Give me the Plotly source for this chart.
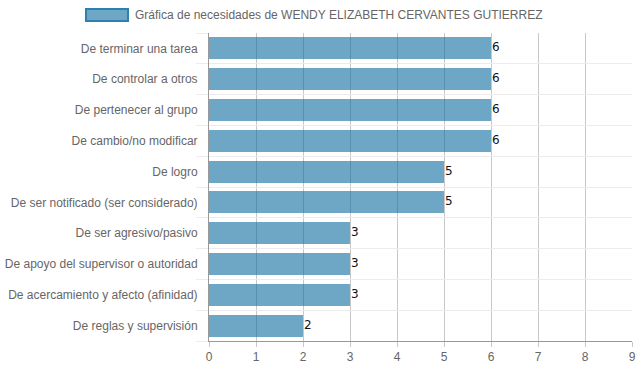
import plotly.graph_objects as go

categories = [
    "De terminar una tarea",
    "De controlar a otros",
    "De pertenecer al grupo",
    "De cambio/no modificar",
    "De logro",
    "De ser notificado (ser considerado)",
    "De ser agresivo/pasivo",
    "De apoyo del supervisor o autoridad",
    "De acercamiento y afecto (afinidad)",
    "De reglas y supervisión",
]
values = [6, 6, 6, 6, 5, 5, 3, 3, 3, 2]
x_ticks = [0, 1, 2, 3, 4, 5, 6, 7, 8, 9]
series_name = "Gráfica de necesidades de WENDY ELIZABETH CERVANTES GUTIERREZ"

FONT = "Liberation Sans, Arial, Helvetica, sans-serif"
positions = list(range(len(categories)))
bounds = [p - 0.5 for p in positions] + [positions[-1] + 0.5]

fig = go.Figure()
# invisible trace to activate horizontal grid axis
fig.add_trace(go.Scatter(x=[0], y=[0], yaxis="y2", mode="markers",
                         marker=dict(opacity=0), showlegend=False, hoverinfo="skip"))
fig.add_trace(go.Bar(
    y=positions, x=values, orientation="h", width=0.72,
    marker=dict(color="rgba(13,107,158,0.6)", line=dict(width=0)),
    showlegend=False, name=series_name,
))

label_annotations = [
    dict(x=v, y=p, xref="x", yref="y", text=str(v), showarrow=False,
         xanchor="left", yanchor="middle", xshift=-1, yshift=1,
         font=dict(size=12, color="#111", family="DejaVu Sans, sans-serif"))
    for p, v in zip(positions, values)
]

fig.update_layout(
    width=639, height=372,
    margin=dict(l=209, r=7, t=33, b=31, autoexpand=False),
    paper_bgcolor="white", plot_bgcolor="white",
    font=dict(family=FONT, size=12, color="#666"),
    bargap=0,
    xaxis=dict(range=[0, 9], tickvals=x_ticks, showgrid=True, gridcolor="#c8c8c8",
               gridwidth=1, zeroline=False, showline=True, linecolor="#999",
               ticks="outside", ticklen=5, tickcolor="#c8c8c8", automargin=False,
               tickfont=dict(size=12, color="#666", family=FONT)),
    yaxis=dict(range=[len(categories) - 0.5, -0.5], tickvals=positions, ticktext=categories,
               showgrid=False, zeroline=False, showline=True, linecolor="#999",
               ticks="", ticklabelstandoff=8, automargin=False,
               tickfont=dict(size=12, color="#666", family=FONT)),
    yaxis2=dict(range=[len(categories) - 0.5, -0.5], overlaying="y", side="left",
                tickvals=bounds, showticklabels=False, showgrid=True, automargin=False,
                gridcolor="#ececec", ticks="outside", ticklen=12, tickcolor="#ececec",
                zeroline=False, showline=False),
    shapes=[dict(type="rect", xref="paper", yref="paper",
                 x0=(86 - 209) / 423, x1=(128 - 209) / 423,
                 y0=(341 - 21) / 308, y1=(341 - 9) / 308,
                 fillcolor="rgba(13,107,158,0.6)", line=dict(color="#2f7fb0", width=2))],
    annotations=label_annotations + [
        dict(text=series_name, xref="paper", yref="paper",
             x=(133 - 209) / 423, y=(341 - 15) / 308, xanchor="left", yanchor="middle",
             showarrow=False, font=dict(size=12, color="#666", family=FONT))],
)

fig.write_html("out.html", config={"displayModeBar": False},
               post_script="document.body.style.margin='0';document.body.style.padding='0';")
